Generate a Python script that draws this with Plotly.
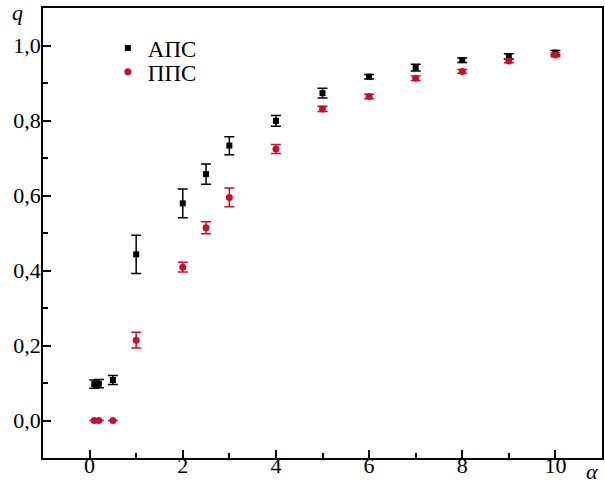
import plotly.graph_objects as go

alpha_aps = [0.1, 0.2, 0.5, 1, 2, 2.5, 3, 4, 5, 6, 7, 8, 9, 10]
q_aps = [0.097, 0.098, 0.108, 0.443, 0.579, 0.657, 0.733, 0.799, 0.873, 0.917, 0.941, 0.961, 0.971, 0.981]
err_aps = [0.011, 0.011, 0.012, 0.051, 0.038, 0.027, 0.024, 0.014, 0.013, 0.006, 0.009, 0.006, 0.007, 0.006]

alpha_pps = [0.1, 0.2, 0.5, 1, 2, 2.5, 3, 4, 5, 6, 7, 8, 9, 10]
q_pps = [0.0, 0.0, 0.0, 0.214, 0.409, 0.514, 0.595, 0.724, 0.831, 0.864, 0.913, 0.931, 0.959, 0.975]
err_pps = [0.0, 0.0, 0.0, 0.021, 0.013, 0.016, 0.025, 0.012, 0.007, 0.006, 0.006, 0.005, 0.005, 0.005]

x_ticks = [0, 2, 4, 6, 8, 10]
x_minor = [1, 3, 5, 7, 9]
y_ticks = [0.0, 0.2, 0.4, 0.6, 0.8, 1.0]
y_minor = [-0.1, 0.1, 0.3, 0.5, 0.7, 0.9]
y_ticktext = ["0,0", "0,2", "0,4", "0,6", "0,8", "1,0"]

RED = "#c8102e"
FONT = "Liberation Serif"

fig = go.Figure()
fig.add_trace(go.Scatter(
    x=alpha_aps, y=q_aps, mode="markers", name="АПС", legend="legend",
    marker=dict(symbol="square", size=6, color="black"),
    error_y=dict(type="data", array=err_aps, visible=True, color="black", thickness=1.5, width=5),
))
fig.add_trace(go.Scatter(
    x=alpha_pps, y=q_pps, mode="markers", name="ППС", legend="legend2",
    marker=dict(symbol="circle", size=7, color=RED),
    error_y=dict(type="data", array=err_pps, visible=True, color=RED, thickness=1.5, width=5),
))

tick_major = dict(ticks="inside", ticklen=8, tickwidth=1.6, tickcolor="#000000")
tick_minor = dict(ticks="inside", ticklen=5, tickwidth=1.6, tickcolor="#000000", showgrid=False)

fig.update_layout(
    xaxis=dict(
        range=[-1, 11], tickmode="array", tickvals=x_ticks,
        showline=True, linecolor="black", linewidth=1.5, mirror=True,
        showgrid=False, zeroline=False, ticklabelstandoff=-13,
        tickfont=dict(family=FONT, size=22, color="black"),
        minor=dict(tickmode="array", tickvals=x_minor, **tick_minor),
        **tick_major,
    ),
    yaxis=dict(
        range=[-0.1, 1.1], tickmode="array", tickvals=y_ticks, ticktext=y_ticktext,
        showline=True, linecolor="black", linewidth=1.5, mirror=True,
        showgrid=False, zeroline=False, ticklabelstandoff=-4,
        tickfont=dict(family=FONT, size=22, color="black"),
        minor=dict(tickmode="array", tickvals=y_minor, **tick_minor),
        **tick_major,
    ),
)

leg_common = dict(xanchor="left", yanchor="middle", bgcolor="rgba(0,0,0,0)",
                  font=dict(family=FONT, size=23, color="black"), itemwidth=30)

fig.update_layout(
    width=605, height=487,
    margin=dict(l=43, r=3, t=8, b=29, autoexpand=False),
    plot_bgcolor="white", paper_bgcolor="white",
    font=dict(family=FONT, size=22, color="black"),
    showlegend=True,
    legend=dict(x=0.116, y=0.911, **leg_common),
    legend2=dict(x=0.116, y=0.858, **leg_common),
    annotations=[
        dict(text="<i>q</i>", xref="paper", yref="paper", x=-0.0465, y=0.991, xanchor="center", yanchor="middle",
             showarrow=False, font=dict(family=FONT, size=22)),
        dict(text="<i>α</i>", xref="paper", yref="paper", x=0.982, y=-0.031, xanchor="center", yanchor="middle",
             showarrow=False, font=dict(family=FONT, size=22)),
    ],
)

fig.write_html("out.html", config={"displayModeBar": False},
               post_script="document.body.style.margin='0';document.body.style.overflow='hidden';")
